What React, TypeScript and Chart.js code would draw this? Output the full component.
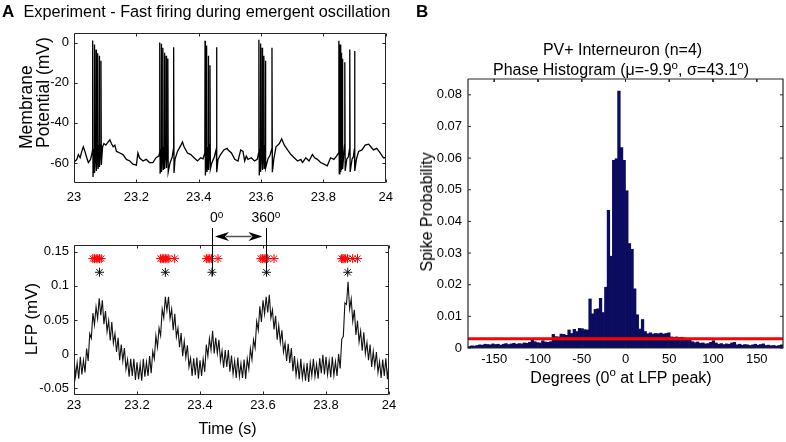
import React, { useEffect, useRef } from 'react';
import { Chart, registerables } from 'chart.js';

Chart.register(...registerables);

// ---------------- DATA ----------------
// Panel A (top): membrane potential trace, [time (s), Vm (mV)]
const membraneTrace: [number, number][] = [
  [23.000, -59.8], [23.004, -59.0], [23.009, -58.2], [23.014, -55.8], [23.0196, -57.4], [23.025, -54.2],
  [23.030, -51.9], [23.035, -54.2], [23.041, -57.4], [23.046, -59.8], [23.053, -58.2], [23.0567, -55.8],
  [23.0591, -54.0], [23.0598, 1.2], [23.0610, -67.0],
  [23.0645, -53.0], [23.0652, -0.9], [23.0664, -65.0],
  [23.0699, -52.0], [23.0706, -3.3], [23.0718, -64.0],
  [23.0753, -52.0], [23.0760, -5.2], [23.0772, -63.0],
  [23.0804, -51.0], [23.0811, -6.5], [23.0823, -62.0],
  [23.0858, -51.0], [23.0865, -8.9], [23.0877, -61.0],
  [23.0917, -51.9], [23.096, -50.3], [23.102, -51.1], [23.1097, -49.5], [23.115, -48.4], [23.120, -50.3],
  [23.1256, -51.9], [23.131, -51.1], [23.136, -54.2], [23.147, -55.0], [23.157, -55.8], [23.168, -58.2],
  [23.179, -59.0], [23.189, -60.6], [23.200, -61.1], [23.205, -55.0], [23.210, -57.4], [23.221, -59.0],
  [23.2316, -58.2], [23.242, -59.8], [23.253, -59.8], [23.263, -57.4], [23.272, -56.6],
  [23.2743, -55.0], [23.2750, 0.2], [23.2762, -65.4],
  [23.2793, -53.0], [23.2800, -0.5], [23.2812, -64.5],
  [23.2843, -52.0], [23.2850, -2.5], [23.2862, -63.5],
  [23.2893, -52.0], [23.2900, -5.0], [23.2912, -63.0],
  [23.2948, -51.0], [23.2955, -6.5], [23.2967, -62.5],
  [23.3003, -51.0], [23.3010, -7.8], [23.3022, -64.5],
  [23.3080, -60.0], [23.3150, -57.0],
  [23.3189, -53.0], [23.3196, -2.2], [23.3208, -65.0],
  [23.3240, -58.2], [23.332, -54.2], [23.343, -51.1], [23.348, -49.5], [23.353, -51.9], [23.364, -55.0],
  [23.3746, -55.8], [23.385, -57.4], [23.396, -59.0], [23.4065, -57.4], [23.414, -57.9],
  [23.4196, -55.0], [23.4203, 1.0], [23.4215, -66.2],
  [23.4247, -53.0], [23.4254, -1.4], [23.4266, -64.5],
  [23.4301, -52.0], [23.4308, -6.5], [23.4320, -63.5],
  [23.4355, -51.0], [23.4362, -11.2], [23.4374, -63.0],
  [23.4420, -60.0], [23.4500, -57.0],
  [23.4565, -53.0], [23.4572, -2.2], [23.4584, -64.6],
  [23.4620, -58.2], [23.470, -55.8], [23.4806, -53.5], [23.491, -52.7], [23.4944, -53.5], [23.505, -55.0],
  [23.5156, -58.2], [23.526, -59.0], [23.5347, -53.5], [23.542, -54.2], [23.5474, -59.0], [23.5527, -56.6],
  [23.558, -58.2], [23.5686, -57.4], [23.579, -59.0], [23.5877, -58.2],
  [23.5923, -55.0], [23.5930, 1.5], [23.5942, -66.2],
  [23.5973, -53.0], [23.5980, -0.4], [23.5992, -64.5],
  [23.6028, -52.0], [23.6035, -2.5], [23.6047, -63.5],
  [23.6083, -52.0], [23.6090, -6.5], [23.6102, -63.0],
  [23.6133, -51.0], [23.6140, -8.9], [23.6152, -62.5],
  [23.6220, -58.0], [23.6290, -56.0],
  [23.6343, -53.0], [23.6350, -2.5], [23.6362, -64.6],
  [23.6407, -58.2], [23.648, -51.9], [23.6587, -50.3], [23.666, -47.9], [23.6746, -51.1], [23.685, -53.5],
  [23.6958, -55.8], [23.7064, -57.4], [23.717, -59.0], [23.7276, -58.2], [23.733, -59.8], [23.7435, -57.4],
  [23.754, -59.0], [23.7647, -55.8], [23.772, -57.4], [23.7806, -58.2], [23.791, -59.8], [23.8018, -60.6],
  [23.8124, -61.4], [23.823, -57.4], [23.8336, -58.2], [23.842, -56.6],
  [23.8489, -55.0], [23.8496, 1.0], [23.8508, -65.4],
  [23.8528, -53.0], [23.8535, -0.9], [23.8547, -64.5],
  [23.8563, -53.0], [23.8570, -5.0], [23.8582, -63.5],
  [23.8603, -52.0], [23.8610, -8.0], [23.8622, -63.0],
  [23.8679, -51.0], [23.8686, -9.7], [23.8698, -64.0],
  [23.8750, -58.0], [23.8800, -57.0],
  [23.8838, -53.0], [23.8845, -3.3], [23.8857, -64.5],
  [23.8920, -58.0], [23.8960, -57.0],
  [23.8993, -53.0], [23.9000, -4.1], [23.9012, -64.0],
  [23.9060, -58.0], [23.913, -54.2], [23.9236, -53.5], [23.934, -51.1], [23.945, -50.6], [23.952, -51.9],
  [23.9607, -53.5], [23.971, -52.7], [23.982, -55.0], [23.9925, -57.4], [24.000, -57.4],
];

// Panel A (bottom): LFP sampled every 5 ms from 23 s (mV)
const lfpStart = 23;
const lfpStep = 0.005;
const lfpValues = [
  -0.007, -0.033, -0.013, -0.036, -0.004, -0.030, -0.009, -0.027, 0.008, -0.010,
  0.030, 0.023, 0.060, 0.043, 0.069, 0.052, 0.082, 0.057, 0.079, 0.044,
  0.063, 0.033, 0.049, 0.020, 0.047, 0.016, 0.030, 0.003, 0.024, -0.009,
  0.014, -0.010, 0.009, -0.022, -0.008, -0.033, -0.007, -0.032, -0.007, -0.038,
  -0.012, -0.037, -0.015, -0.039, -0.007, -0.033, -0.012, -0.032, -0.003, -0.028,
  0.004, -0.007, 0.027, 0.010, 0.038, 0.027, 0.066, 0.053, 0.084, 0.064,
  0.084, 0.052, 0.066, 0.035, 0.059, 0.025, 0.038, 0.010, 0.031, -0.003,
  0.019, -0.005, 0.013, -0.019, -0.006, -0.032, -0.006, -0.031, -0.005, -0.036,
  -0.009, -0.032, -0.007, -0.026, 0.014, -0.003, 0.023, 0.006, 0.034, 0.001,
  0.024, 0.001, 0.021, -0.010, 0.005, -0.020, 0.006, -0.019, 0.006, -0.026,
  -0.002, -0.029, -0.010, -0.035, -0.005, -0.033, -0.014, -0.035, -0.008, -0.036,
  -0.007, -0.022, 0.008, -0.008, 0.021, 0.009, 0.048, 0.035, 0.070, 0.047,
  0.079, 0.059, 0.084, 0.061, 0.087, 0.053, 0.065, 0.036, 0.056, 0.021,
  0.042, 0.017, 0.035, 0.003, 0.016, -0.010, 0.015, -0.013, 0.009, -0.025,
  -0.003, -0.031, -0.012, -0.037, -0.007, -0.035, -0.017, -0.039, -0.013, -0.041,
  -0.013, -0.032, -0.007, -0.033, -0.015, -0.036, -0.006, -0.028, -0.001, -0.030,
  -0.004, -0.030, -0.010, -0.034, -0.004, -0.031, -0.011, -0.032, 0.000, -0.021,
  0.022, 0.026, 0.075, 0.073, 0.106, 0.066, 0.081, 0.048, 0.065, 0.028,
  0.049, 0.018, 0.034, 0.005, 0.032, 0.001, 0.017, -0.009, 0.014, -0.019,
  0.004, -0.018, 0.003, -0.027, -0.011, -0.035, -0.008, -0.032, -0.006, -0.037, -0.012,
];

// spike times (red asterisks) and LFP peak times (black asterisks)
const spikeTimes = [
  23.0598, 23.0652, 23.0706, 23.0760, 23.0811, 23.0865,
  23.2750, 23.2800, 23.2850, 23.2900, 23.2955, 23.3010, 23.3196,
  23.4203, 23.4254, 23.4308, 23.4362, 23.4572,
  23.5930, 23.5980, 23.6035, 23.6090, 23.6140, 23.6350,
  23.8496, 23.8535, 23.8570, 23.8610, 23.8686, 23.8845, 23.9000,
];
const lfpPeakTimes = [23.081, 23.290, 23.438, 23.611, 23.869];
const spikeMarkerLevel = 0.14;
const peakMarkerLevel = 0.12;

// Panel B: phase histogram, 3-degree bins from -180 to 180
const phaseBinStart = -180;
const phaseBinWidth = 3;
const phaseProb = [
  0.0005, 0.0007, 0.0006, 0.0008, 0.0010, 0.0009, 0.0012, 0.0011, 0.0010, 0.0013,
  0.0011, 0.0012, 0.0009, 0.0012, 0.0014, 0.0011, 0.0013, 0.0015, 0.0012, 0.0014,
  0.0013, 0.0016, 0.0015, 0.0018, 0.0025, 0.0020, 0.0017, 0.0016, 0.0023, 0.0019,
  0.0018, 0.0020, 0.0043, 0.0036, 0.0035, 0.0044, 0.0043, 0.0040, 0.0057, 0.0046,
  0.0059, 0.0052, 0.0062, 0.0061, 0.0058, 0.0057, 0.0155, 0.0108, 0.0122, 0.0124,
  0.0157, 0.0112, 0.0192, 0.0435, 0.0290, 0.0593, 0.0598, 0.0812, 0.0633, 0.0593,
  0.0497, 0.0330, 0.0312, 0.0187, 0.0105, 0.0060, 0.0090, 0.0052, 0.0045, 0.0048,
  0.0044, 0.0046, 0.0045, 0.0047, 0.0044, 0.0046, 0.0048, 0.0035, 0.0034, 0.0035,
  0.0033, 0.0034, 0.0032, 0.0030, 0.0028, 0.0020, 0.0017, 0.0019, 0.0015, 0.0016,
  0.0013, 0.0014, 0.0018, 0.0023, 0.0016, 0.0012, 0.0014, 0.0011, 0.0013, 0.0012,
  0.0016, 0.0018, 0.0010, 0.0012, 0.0009, 0.0011, 0.0010, 0.0008, 0.0010, 0.0012,
  0.0009, 0.0011, 0.0013, 0.0008, 0.0009, 0.0007, 0.0008, 0.0006, 0.0008, 0.0010,
];
const uniformLevel = 0.0029;

// axis limits and tick values
const degMin = -180;
const degMax = 180;
const probMin = 0;
const probMax = 0.085;
const timeTicks = [23, 23.2, 23.4, 23.6, 23.8, 24];
const vmTicks = [-60, -40, -20, 0];
const lfpTicks = [-0.05, 0, 0.05, 0.1, 0.15];
const probTicks = [0, 0.01, 0.02, 0.03, 0.04, 0.05, 0.06, 0.07, 0.08];
const degTicks = [-150, -100, -50, 0, 50, 100, 150];

// ---------------- STYLE HELPERS ----------------
const FONT = '"Liberation Sans", Arial, Helvetica, sans-serif';
const AXIS_COLOR = '#262626';
Chart.defaults.font.family = FONT;
Chart.defaults.font.size = 13;
Chart.defaults.color = '#000';

const fmt = (v: any) => String(Math.round(Number(v) * 10000) / 10000);

function drawFrame(chart: any) {
  const { ctx, chartArea, scales } = chart;
  const l = Math.round(chartArea.left) + 0.5;
  const r = Math.round(chartArea.right) - 0.5;
  const t = Math.round(chartArea.top) + 0.5;
  const b = Math.round(chartArea.bottom) - 0.5;
  const len = 3;
  ctx.save();
  ctx.strokeStyle = AXIS_COLOR;
  ctx.lineWidth = 1;
  ctx.beginPath();
  ctx.rect(l, t, r - l, b - t);
  const xs = scales.x;
  const ys = scales.y;
  xs.ticks.forEach((tk: any) => {
    const p = Math.round(xs.getPixelForValue(tk.value)) + 0.5;
    ctx.moveTo(p, b); ctx.lineTo(p, b - len);
    ctx.moveTo(p, t); ctx.lineTo(p, t + len);
  });
  ys.ticks.forEach((tk: any) => {
    const p = Math.round(ys.getPixelForValue(tk.value)) + 0.5;
    ctx.moveTo(l, p); ctx.lineTo(l + len, p);
    ctx.moveTo(r, p); ctx.lineTo(r - len, p);
  });
  ctx.stroke();
  ctx.restore();
}

function makeFramePlugin() {
  return { id: 'matlabFrame', afterDraw(chart: any) { drawFrame(chart); } };
}

function makePhasePlugin() {
  return {
    id: 'phaseMarks',
    afterDraw(chart: any) {
      const { ctx, chartArea, scales } = chart;
      const x0 = scales.x.getPixelForValue(lfpPeakTimes[2]);
      const x1 = scales.x.getPixelForValue(lfpPeakTimes[3]);
      const yTop = chartArea.top - 17;
      const yBot = scales.y.getPixelForValue(peakMarkerLevel) + 4;
      ctx.save();
      ctx.strokeStyle = '#000';
      ctx.lineWidth = 1;
      ctx.beginPath();
      [x0, x1].forEach((x) => {
        const p = Math.round(x) + 0.5;
        ctx.moveTo(p, yTop);
        ctx.lineTo(p, yBot);
      });
      ctx.stroke();
      const ay = chartArea.top - 8.5;
      const a0 = x0 + 3;
      const a1 = x1 - 4;
      const hl = 14;
      const hw = 4.5;
      ctx.strokeStyle = '#555';
      ctx.lineWidth = 1.5;
      ctx.beginPath();
      ctx.moveTo(a0 + hl - 3, ay);
      ctx.lineTo(a1 - hl + 3, ay);
      ctx.stroke();
      ctx.fillStyle = '#000';
      ctx.beginPath();
      ctx.moveTo(a0, ay); ctx.lineTo(a0 + hl, ay - hw); ctx.lineTo(a0 + hl - 4, ay); ctx.lineTo(a0 + hl, ay + hw);
      ctx.closePath();
      ctx.fill();
      ctx.beginPath();
      ctx.moveTo(a1, ay); ctx.lineTo(a1 - hl, ay - hw); ctx.lineTo(a1 - hl + 4, ay); ctx.lineTo(a1 - hl, ay + hw);
      ctx.closePath();
      ctx.fill();
      ctx.restore();
    },
  };
}

function axisX(min: number, max: number, ticks: number[], height: number, padding: number) {
  return {
    type: 'linear',
    position: 'bottom',
    min,
    max,
    offset: false,
    grid: { display: false, drawTicks: false, offset: false },
    border: { display: false },
    afterBuildTicks: (s: any) => { s.ticks = ticks.map((v) => ({ value: v })); },
    afterFit: (s: any) => { s.height = height; },
    ticks: { padding, maxRotation: 0, autoSkip: false, callback: fmt, color: '#000', font: { size: 13 } },
  };
}
function axisY(min: number, max: number, ticks: number[], width: number, padding: number) {
  return {
    type: 'linear',
    position: 'left',
    min,
    max,
    grid: { display: false, drawTicks: false },
    border: { display: false },
    afterBuildTicks: (s: any) => { s.ticks = ticks.map((v) => ({ value: v })); },
    afterFit: (s: any) => { s.width = width; },
    ticks: { padding, autoSkip: false, callback: fmt, color: '#000', font: { size: 13 } },
  };
}

function baseOpts(padding: any, scales: any) {
  return {
    responsive: false,
    animation: false,
    events: [],
    plugins: { legend: { display: false }, tooltip: { enabled: false } },
    layout: { padding },
    scales,
  };
}

function membraneConfig(): any {
  return {
    type: 'scatter',
    data: {
      datasets: [{
        data: membraneTrace.map(([x, y]) => ({ x, y })),
        showLine: true,
        borderColor: '#000',
        borderWidth: 1.3,
        pointRadius: 0,
        tension: 0,
      }],
    },
    options: baseOpts({ left: 0, right: 11, top: 6, bottom: 0 }, { x: axisX(23, 24, timeTicks, 27, 7), y: axisY(-70, 5, vmTicks, 74, 5) }),
    plugins: [makeFramePlugin()],
  };
}

function lfpConfig(): any {
  return {
    type: 'scatter',
    data: {
      datasets: [
        {
          data: lfpValues.map((v, i) => ({ x: lfpStart + i * lfpStep, y: v })),
          showLine: true,
          borderColor: '#111',
          borderWidth: 1.1,
          pointRadius: 0,
          tension: 0,
          order: 3,
        },
        {
          data: spikeTimes.map((t) => ({ x: t, y: spikeMarkerLevel })),
          showLine: false,
          pointStyle: 'star',
          pointRadius: 4.5,
          borderColor: '#ff0000',
          borderWidth: 1,
          order: 1,
        },
        {
          data: lfpPeakTimes.map((t) => ({ x: t, y: peakMarkerLevel })),
          showLine: false,
          pointStyle: 'star',
          pointRadius: 4.5,
          borderColor: '#111',
          borderWidth: 1,
          order: 2,
        },
      ],
    },
    options: baseOpts({ left: 0, right: 11, top: 45, bottom: 0 }, { x: axisX(23, 24, timeTicks, 47, 3), y: axisY(-0.06, 0.16, lfpTicks, 74, 5) }),
    plugins: [makeFramePlugin(), makePhasePlugin()],
  };
}

// Panel B frame (axes box + inward tick marks) drawn as line datasets through the chart scales
const HIST_PLOT_W = 315;
const HIST_PLOT_H = 269;
const TICK_PX = 3;

function histFrameData() {
  return [
    { x: degMin, y: probMax }, { x: degMax, y: probMax }, { x: degMax, y: probMin },
    { x: degMin, y: probMin }, { x: degMin, y: probMax },
  ];
}
function histTickData() {
  const dy = ((probMax - probMin) * TICK_PX) / HIST_PLOT_H;
  const dx = ((degMax - degMin) * TICK_PX) / HIST_PLOT_W;
  const pts: any[] = [];
  degTicks.forEach((t) => {
    pts.push({ x: t, y: probMin }, { x: t, y: probMin + dy }, { x: t, y: null });
    pts.push({ x: t, y: probMax }, { x: t, y: probMax - dy }, { x: t, y: null });
  });
  probTicks.forEach((v) => {
    pts.push({ x: degMin, y: v }, { x: degMin + dx, y: v }, { x: degMin + dx, y: null });
    pts.push({ x: degMax, y: v }, { x: degMax - dx, y: v }, { x: degMax - dx, y: null });
  });
  return pts;
}

function histConfig(): any {
  return {
    type: 'scatter',
    data: {
      datasets: [
        {
          type: 'line',
          data: histFrameData(),
          borderColor: AXIS_COLOR,
          borderWidth: 1.2,
          pointRadius: 0,
          showLine: true,
          spanGaps: false,
          clip: false,
          order: -2,
        },
        {
          type: 'line',
          data: histTickData(),
          borderColor: AXIS_COLOR,
          borderWidth: 1,
          pointRadius: 0,
          showLine: true,
          spanGaps: false,
          clip: false,
          order: -1,
        },
        {
          type: 'line',
          data: [{ x: degMin, y: uniformLevel }, { x: degMax, y: uniformLevel }],
          borderColor: '#ff0000',
          borderWidth: 3,
          pointRadius: 0,
          showLine: true,
          order: 0,
        },
        {
          type: 'bar',
          data: phaseProb.map((p, k) => ({ x: phaseBinStart + phaseBinWidth * (k + 0.5), y: p })),
          backgroundColor: '#0b0b60',
          borderWidth: 0,
          barPercentage: 1,
          categoryPercentage: 1,
          order: 1,
        },
      ],
    },
    options: baseOpts({ left: 0, right: 3, top: 49, bottom: 0 }, {
      x: axisX(degMin, degMax, degTicks, 94, 4),
      y: axisY(probMin, probMax, probTicks, 68, 6),
    }),
  };
}

function ChartBox({ left, top, width, height, make }: { left: number; top: number; width: number; height: number; make: () => any }) {
  const ref = useRef<HTMLCanvasElement>(null);
  useEffect(() => {
    const chart = new Chart(ref.current as HTMLCanvasElement, make());
    return () => chart.destroy();
  }, []);
  return (
    <canvas
      ref={ref}
      width={width}
      height={height}
      style={{ position: 'absolute', left, top, width, height }}
    />
  );
}

function Txt({ x, y, size, bold, center, children }: { x: number; y: number; size: number; bold?: boolean; center?: boolean; children: React.ReactNode }) {
  return (
    <div
      style={{
        position: 'absolute',
        left: x,
        top: y - 0.8465 * size,
        fontSize: size,
        lineHeight: `${size}px`,
        fontWeight: bold ? 'bold' : 'normal',
        whiteSpace: 'nowrap',
        pointerEvents: 'none',
        transform: center ? 'translateX(-50%)' : undefined,
      }}
    >
      {children}
    </div>
  );
}

function RotTxt({ x, y, size, center, children }: { x: number; y: number; size: number; center?: boolean; children: React.ReactNode }) {
  return (
    <div
      style={{
        position: 'absolute',
        left: x,
        top: y,
        fontSize: size,
        lineHeight: `${size}px`,
        whiteSpace: 'nowrap',
        pointerEvents: 'none',
        transformOrigin: '0 0',
        transform: center ? 'rotate(-90deg) translateX(-50%)' : 'rotate(-90deg)',
      }}
    >
      {children}
    </div>
  );
}

function Sup({ raise }: { raise: number }) {
  return <span style={{ fontSize: '0.72em', verticalAlign: `${raise}px`, lineHeight: 0 }}>o</span>;
}

export default function App() {
  return (
    <div
      style={{
        position: 'absolute',
        left: 0,
        top: 0,
        width: 786,
        height: 442,
        overflow: 'hidden',
        background: '#fff',
        color: '#000',
        fontFamily: FONT,
      }}
    >
      <ChartBox left={0} top={20} width={400} height={190} make={membraneConfig} />
      <ChartBox left={0} top={200} width={400} height={242} make={lfpConfig} />
      <ChartBox left={400} top={30} width={386} height={412} make={histConfig} />

      <Txt x={2} y={17.5} size={17} bold>A</Txt>
      <Txt x={23.5} y={17} size={16.25}>Experiment - Fast firing during emergent oscillation</Txt>
      <Txt x={416} y={17} size={17} bold>B</Txt>

      <RotTxt x={17.7} y={149} size={17.5}>Membrane</RotTxt>
      <RotTxt x={35} y={148} size={17.5}>Potential (mV)</RotTxt>
      <RotTxt x={22.8} y={319} size={17} center>LFP (mV)</RotTxt>
      <Txt x={227.5} y={435} size={16} center>Time (s)</Txt>

      <Txt x={210} y={222} size={14}>0<Sup raise={4} /></Txt>
      <Txt x={251.5} y={222} size={14}>360<Sup raise={4} /></Txt>

      <Txt x={622.5} y={56} size={16} center>PV+ Interneuron (n=4)</Txt>
      <Txt x={621} y={75.5} size={16} center>
        Phase Histogram (μ=-9.9<Sup raise={6} />, σ=43.1<Sup raise={6} />)
      </Txt>
      <RotTxt x={418.6} y={212} size={16} center>Spike Probability</RotTxt>
      <Txt x={621} y={384} size={16} center>
        Degrees (0<Sup raise={7} /> at LFP peak)
      </Txt>
    </div>
  );
}
